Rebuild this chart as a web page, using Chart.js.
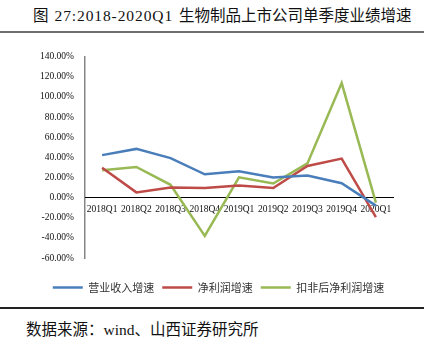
<!DOCTYPE html>
<html>
<head>
<meta charset="utf-8">
<script src="https://cdn.jsdelivr.net/npm/chart.js@4"></script>
<style>
  html, body { margin: 0; padding: 0; background: #fff; }
  #wrap { position: relative; width: 431px; height: 337px; overflow: hidden; }
  #title { position: absolute; left: 33px; top: 3px; font: 15.5px "Liberation Serif", "Noto Sans CJK SC"; color: #111; white-space: nowrap; }
  #title .num { margin-left: 6px; margin-right: 6px; letter-spacing: 0.9px; }
  .rule { position: absolute; left: 0; width: 424px; }
  #rule1 { top: 31px; height: 2px; background: #6e6e6e; }
  #rule2 { top: 307px; height: 1.5px; background: #222; }
  #source { position: absolute; left: 26px; top: 317px; font: 15.5px "Liberation Serif", "Noto Sans CJK SC"; color: #111; white-space: nowrap; }
  #box { position: absolute; left: 0; top: 40px; width: 431px; height: 265px; }
</style>
</head>
<body>
<div id="wrap">
  <div id="title">图<span class="num">27:2018-2020Q1</span>生物制品上市公司单季度业绩增速</div>
  <div class="rule" id="rule1"></div>
  <div id="box"><canvas id="chart"></canvas></div>
  <div class="rule" id="rule2"></div>
  <div id="source">数据来源：wind、山西证券研究所</div>
</div>
<script>
// 季度
const quarters = ['2018Q1', '2018Q2', '2018Q3', '2018Q4', '2019Q1', '2019Q2', '2019Q3', '2019Q4', '2020Q1'];
// 增速 (%)
const revenueGrowth = [42.2, 48.4, 39.2, 23.2, 26.1, 19.9, 21.9, 14.3, -8];
const profitGrowth = [29.7, 5.2, 10.1, 9.5, 12.1, 9.5, 31.4, 38.8, -19.3];
const deductedGrowth = [27.1, 30.4, 12.7, -38, 20.2, 14, 34, 113.8, -5];
const seriesNames = ['营业收入增速', '净利润增速', '扣非后净利润增速'];
const yTicks = [-60, -40, -20, 0, 20, 40, 60, 80, 100, 120, 140];

const colors = ['#4a7ebb', '#be4b48', '#98b954'];
const serif = 'Liberation Serif';

function line(label, data, color) {
  return {
    label: label,
    data: data,
    borderColor: color,
    backgroundColor: color,
    borderWidth: 2.5,
    pointRadius: 0,
    tension: 0,
    xAxisID: 'x',
    yAxisID: 'y'
  };
}

// 空白占位轴，只用来留出间距
const spacer = (pos, size) => ({
  type: pos === 'right' ? 'linear' : 'category',
  position: pos,
  grid: { display: false, drawTicks: false },
  border: { display: false },
  ticks: { display: false },
  afterFit: s => { if (pos === 'right') s.width = size; else s.height = size; }
});

const ctx = document.getElementById('chart').getContext('2d');
new Chart(ctx, {
  type: 'line',
  data: {
    labels: quarters,
    datasets: [
      line(seriesNames[0], revenueGrowth, colors[0]),
      line(seriesNames[1], profitGrowth, colors[1]),
      line(seriesNames[2], deductedGrowth, colors[2])
    ]
  },
  options: {
    responsive: true,
    maintainAspectRatio: false,
    animation: false,
    layout: { padding: { top: 12, right: 0, bottom: 2, left: 6 } },
    plugins: {
      tooltip: { enabled: false },
      legend: {
        position: 'bottom',
        labels: {
          usePointStyle: true,
          pointStyle: 'line',
          pointStyleWidth: 30,
          padding: 8,
          color: '#333',
          font: { family: 'Noto Sans CJK SC', size: 11 }
        }
      }
    },
    scales: {
      y: {
        min: -60,
        max: 140,
        afterBuildTicks: s => { s.ticks = yTicks.map(v => ({ value: v })); },
        afterFit: s => { s.width = 79; },
        grid: { display: false, drawTicks: false },
        border: { display: true, color: '#858585', width: 1.5 },
        ticks: {
          color: '#111',
          padding: 11,
          font: { family: serif, size: 9.5 },
          callback: v => v.toFixed(2) + '%'
        }
      },
      x: {
        position: { y: 0 },
        offset: true,
        grid: { display: false, drawTicks: false },
        border: { display: true, color: '#000', width: 1 },
        ticks: { color: '#111', padding: 6, maxRotation: 0, autoSkip: false, font: { family: serif, size: 9.5 } }
      },
      gap: Object.assign(spacer('bottom', 16), { labels: quarters }),
      side: spacer('right', 38)
    }
  }
});
</script>
</body>
</html>
